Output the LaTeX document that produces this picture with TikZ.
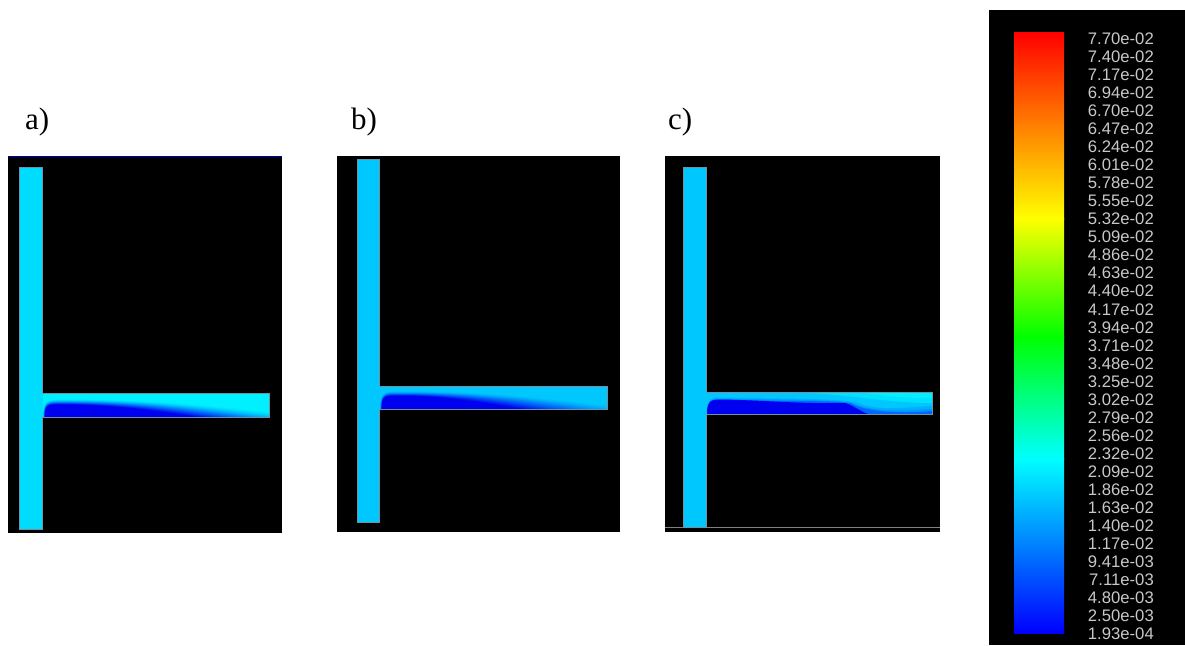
\documentclass[tikz,border=0pt]{standalone}
\usepackage{fontspec}
\setmainfont{Liberation Serif}
\newfontfamily\barfont{Liberation Sans}
\definecolor{chanA}{HTML}{00DCFF}
\definecolor{chanB}{HTML}{00C8FF}
\definecolor{chanAh}{HTML}{00F0FF}
\definecolor{coreblue}{HTML}{0000F0}
\definecolor{edgegrey}{HTML}{6F93A5}
\definecolor{labelgrey}{HTML}{C8C8C8}
\tikzset{
  panel/.style={fill=black,draw=none},
  duct/.style={draw=edgegrey,line width=0.8pt},
  caption/.style={font=\fontsize{31}{31}\selectfont,anchor=base west,inner sep=0pt},
  barlabel/.style={font=\barfont\fontsize{16.7}{16.7}\selectfont,text=labelgrey,anchor=east,inner sep=0pt},
}
% plume: x0, ybottom, outer h, inner h, outer length, inner length, channel colour
\newcommand{\plumeshape}[7]{%
  \foreach \i in {0,...,24}{%
    \pgfmathsetmacro{\hh}{#3+(#4-#3)*\i/24}%
    \pgfmathsetmacro{\LL}{#5+(#6-#5)*\i/24}%
    \pgfmathtruncatemacro{\pp}{min(100,100*pow(\i/19,1.5))}%
    \colorlet{plumecol}{coreblue!\pp!#7}%
    \fill[plumecol] (#1+0.1*\i,#2) .. controls (#1+0.1*\i,#2-\hh) and (#1+5,#2-\hh) .. (#1+18,#2-\hh)
      .. controls (#1+0.45*\LL,#2-\hh) and (#1+0.7*\LL,#2-0.55*\hh) .. (#1+\LL,#2) -- cycle;
  }%
}
\begin{document}
\begin{tikzpicture}[x=1pt,y=-1pt]
\useasboundingbox (0,0) rectangle (1185,645);
\fill[white] (0,0) rectangle (1185,645);

% captions
\node[caption] (la) at (25,129) {a)};
\node[caption] (lb) at (351,129) {b)};
\node[caption] (lc) at (668,129) {c)};

% panel a
\fill[panel] (8,156) rectangle (282,533);
\draw[color=blue!70!black,line width=1.5pt] (8,156.5) -- (282,156.5);
\fill[chanA] (19,167) rectangle (42.6,529);
\fill[chanAh] (42.6,393) rectangle (269,417);
\begin{scope}
  \clip (42.6,393) rectangle (269,417);
  \plumeshape{43}{417}{18}{11}{275}{125}{chanAh}
\end{scope}
\draw[duct] (42.6,393) -- (269,393) -- (269,417) -- (42.6,417);
\draw[duct] (42.6,393) -- (42.6,167) -- (19,167) -- (19,529) -- (42.6,529) -- (42.6,417);

% panel b
\fill[panel] (337,156) rectangle (620,532);
\fill[chanB] (357,159) rectangle (379.6,522);
\fill[chanB] (379.6,386) rectangle (607,409);
\begin{scope}
  \clip (379.6,386) rectangle (607,409);
  \plumeshape{380}{409}{18}{12}{265}{110}{chanB}
\end{scope}
\draw[duct] (379.6,386) -- (607,386) -- (607,409) -- (379.6,409);
\draw[duct] (379.6,386) -- (379.6,159) -- (357,159) -- (357,522) -- (379.6,522) -- (379.6,409);

% panel c
\fill[panel] (665,156) rectangle (940,532);
\draw[color=gray,line width=1pt] (665,527.5) -- (940,527.5);
\fill[chanB] (683,167) rectangle (706.6,527);
\fill[chanB] (706.6,392) rectangle (932,414);
\begin{scope}
  \clip (706.6,392) rectangle (932,414);
  \fill[chanAh!60!chanB] (780,392) .. controls (850,393) and (880,403) .. (932,403) -- (932,392) -- cycle;
  \fill[chanAh] (860,392) .. controls (880,395) and (905,399) .. (932,398) -- (932,392) -- cycle;
  \fill[blue!12!chanB] (707,414) .. controls (707,397) and (712,397.5) .. (722,397.5)
     .. controls (780,399) and (830,398) .. (855,402) .. controls (880,412) and (905,407) .. (932,406) -- (932,414) -- cycle;
  \fill[blue!25!chanB] (707,414) .. controls (707,398) and (712,398.5) .. (722,398.5)
     .. controls (780,400) and (830,399) .. (852,403) .. controls (875,413) and (905,410) .. (932,409) -- (932,414) -- cycle;
  \fill[blue!50!chanB] (707,414) .. controls (707,399) and (712,399.5) .. (722,399.5)
     .. controls (790,402) and (830,400) .. (850,403) .. controls (868,413) and (905,413.5) .. (932,411) -- (932,414) -- cycle;
  \fill[coreblue] (707,414) .. controls (707,400) and (712,399.5) .. (722,399.5)
     .. controls (770,400.5) and (800,404) .. (845,403) .. controls (852,405) and (860,411) .. (868,414) -- cycle;
\end{scope}
\draw[duct] (706.6,392) -- (932,392) -- (932,414) -- (706.6,414);
\draw[duct] (706.6,392) -- (706.6,167) -- (683,167) -- (683,527) -- (706.6,527) -- (706.6,414);

% colour bar
\fill[panel] (989,10) rectangle (1185,645);
\shade[top color=red,bottom color=yellow] (1014,32) rectangle (1064,219);
\shade[top color=yellow,bottom color=green] (1014,218.5) rectangle (1064,337);
\shade[top color=green,bottom color=cyan] (1014,336.5) rectangle (1064,459);
\shade[top color=cyan,bottom color=blue] (1014,458.5) rectangle (1064,633);

\foreach \txt [count=\n from 0] in {7.70e-02,7.40e-02,7.17e-02,6.94e-02,6.70e-02,6.47e-02,6.24e-02,6.01e-02,5.78e-02,5.55e-02,5.32e-02,5.09e-02,4.86e-02,4.63e-02,4.40e-02,4.17e-02,3.94e-02,3.71e-02,3.48e-02,3.25e-02,3.02e-02,2.79e-02,2.56e-02,2.32e-02,2.09e-02,1.86e-02,1.63e-02,1.40e-02,1.17e-02,9.41e-03,7.11e-03,4.80e-03,2.50e-03,1.93e-04}
  \node[barlabel] (bar\n) at (1154,{38.8+\n*18.03}) {\txt};
\end{tikzpicture}
\end{document}
